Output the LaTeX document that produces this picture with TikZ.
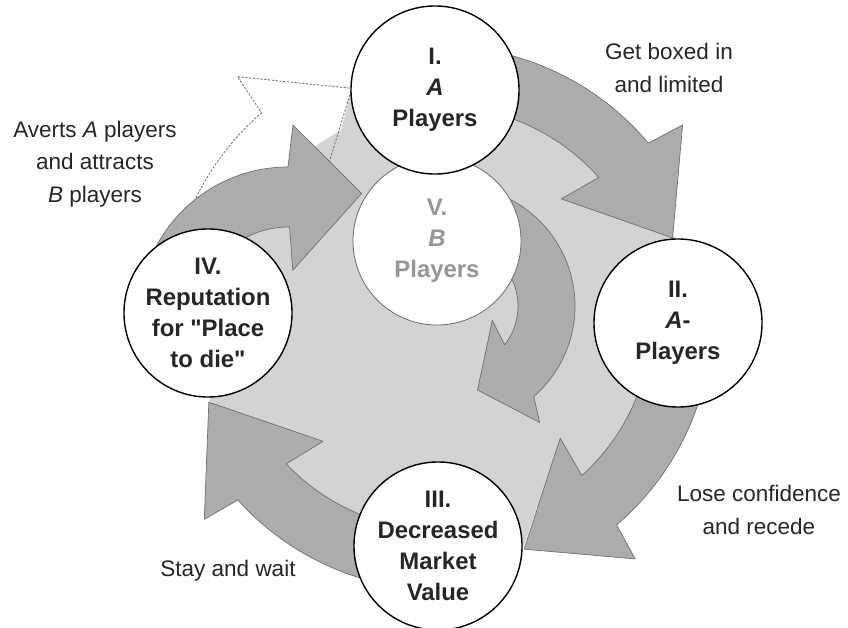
\documentclass[tikz,border=0pt]{standalone}
\usepackage{fontspec}
\setmainfont{Liberation Sans}
\usepackage{tikz}
\usetikzlibrary{arrows,shapes,positioning}

\definecolor{ringgray}{RGB}{211,211,211}
\definecolor{arrowgray}{RGB}{172,172,172}
\definecolor{edgegray}{RGB}{112,112,112}
\definecolor{textgray}{RGB}{38,38,38}
\definecolor{fadegray}{RGB}{150,150,150}

\tikzset{
  stage/.style={circle,draw=black,fill=white,line width=1pt,minimum size=4.2cm,
    inner sep=0pt,align=center,text=textgray,font=\fontsize{17}{22}\selectfont\bfseries},
  faded/.style={stage,draw=edgegray,line width=0.6pt,text=fadegray},
  bigarrow/.style={fill=arrowgray,draw=edgegray,line width=0.5pt,line join=round},
  ghost/.style={draw=edgegray,line width=0.6pt,dash pattern=on 1.6pt off 1.1pt},
  note/.style={align=center,text=textgray,font=\fontsize{16}{23}\selectfont}
}

% arrow along the big ring: start angle, notch angle, tip angle
\newcommand{\ringarrow}[3]{%
  \filldraw[bigarrow] (#1:272) arc[start angle=#1, end angle=#2, radius=272]
    -- ({#2-1.5}:310) -- (#3:246) -- ({#2+4.5}:170) -- ({#2+1.5}:212)
    arc[start angle={#2+1.5}, end angle=#1, radius=212] -- cycle;}

\begin{document}
\begin{tikzpicture}[x=0.025cm,y=0.025cm]
  \useasboundingbox (0,0) rectangle (848,-628);

  \coordinate (O) at (440,-318);
  \coordinate (a) at (435,-90);
  \coordinate (b) at (678,-323);
  \coordinate (c) at (438,-546);
  \coordinate (d) at (208,-313);
  \coordinate (e) at (437,-241);

  \begin{scope}[shift={(O)}]
    % inner field, reaching out to the arrow tips
    \fill[ringgray] (0,0) circle (212);
    \fill[ringgray] (44.5:168) -- (19:249) -- (b) -- cycle;
    \fill[ringgray] (-45:170) -- (-70:244) -- (c) -- cycle;
    \fill[ringgray] (-133.5:173) -- (-160:245) -- (d) -- cycle;
    \fill[ringgray] (128:180) -- (111:246) -- (a) -- cycle;

    % way back to I, only outlined
    \draw[ghost] (165:272) arc[start angle=165, end angle=131, radius=272]
      -- (130:315) -- (111:246) -- (128:185);

    \ringarrow{95}{40}{19}
    \ringarrow{0}{-49.5}{-70}
    \ringarrow{-90}{-138}{-160}
  \end{scope}

  % IV -> V
  \begin{scope}[shift={(288,-316)}]
    \filldraw[bigarrow] (165:149) arc[start angle=165, end angle=90, radius=149]
      -- (88.5:191) -- (59:143) -- (84:46) -- (89:89)
      arc[start angle=89, end angle=165, radius=89] -- cycle;
  \end{scope}

  % V back into the field
  \begin{scope}[shift={(455,-306)}]
    \filldraw[bigarrow] (70:120) arc[start angle=70, end angle=-49, radius=120]
      -- (-54:144) -- (-75:87) -- (-21:40) -- (-38:63)
      arc[start angle=-38, end angle=70, radius=63] -- cycle;
  \end{scope}

  \node[faded] (E) at (e) {V.\\\textit{B}\\Players};
  \node[stage] (A) at (a) {I.\\\textit{A}\\Players};
  \node[stage] (B) at (b) {II.\\\textit{A}-\\Players};
  \node[stage] (C) at (c) {III.\\Decreased\\Market\\Value};
  \node[stage] (D) at (d) {IV.\\Reputation\\for \textquotedbl Place\\to die\textquotedbl};

  \node[note] (AB) at (669,-68)  {Get boxed in\\and limited};
  \node[note] (BC) at (759,-510) {Lose confidence\\and recede};
  \node[note] (CD) at (228,-571) {Stay and wait};
  \node[note] (DE) at (95,-164)  {Averts \textit{A} players\\and attracts\\\textit{B} players};
\end{tikzpicture}
\end{document}
